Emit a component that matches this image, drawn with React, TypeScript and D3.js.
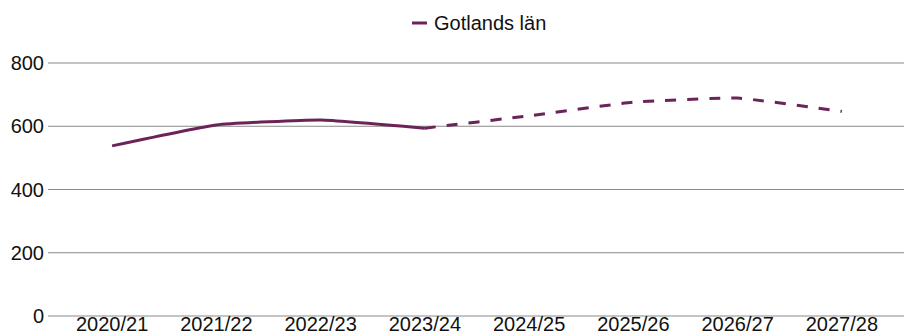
import * as React from "react"
import * as d3 from "d3"

const years = ["2020/21", "2021/22", "2022/23", "2023/24", "2024/25", "2025/26", "2026/27", "2027/28"]
const actual = [538, 604, 620, 594]
const forecast = [594, 633, 676, 689, 647]
const yTicks = [0, 200, 400, 600, 800]
const seriesName = "Gotlands län"

const App = () => {
    const [w, h] = [904, 336]
    const color = "#6b2358"
    const font = "'Liberation Sans', Arial, sans-serif"

    const x = d3.scaleBand().domain(years).range([60, 894])
    const y = d3.scaleLinear().domain([0, 800]).range([316, 63])
    const cx = (d: string) => (x(d) ?? 0) + x.bandwidth() / 2

    const line = d3
        .line<[string, number]>()
        .x(d => cx(d[0]))
        .y(d => y(d[1]))
        .curve(d3.curveCardinal.tension(0.6))

    const solidPts = actual.map((v, i) => [years[i], v] as [string, number])
    const dashPts = forecast.map((v, i) => [years[i + actual.length - 1], v] as [string, number])

    return (
        <svg width={w} height={h} style={{ position: "absolute", left: 0, top: 0 }} fontFamily={font}>
            <rect width={w} height={h} fill="white" />
            {yTicks.map(t => (
                <g key={t}>
                    <line x1={48} x2={w} y1={y(t)} y2={y(t)} stroke="#8a8a8a" strokeWidth={1} />
                    <text x={44} y={y(t)} dy="0.35em" fontSize={20} textAnchor="end" fill="#111">
                        {t}
                    </text>
                </g>
            ))}
            {years.map(d => (
                <text key={d} x={cx(d)} y={331} fontSize={20} textAnchor="middle" fill="#111">
                    {d}
                </text>
            ))}
            <path d={line(solidPts) ?? ""} fill="none" stroke={color} strokeWidth={3} />
            <path d={line(dashPts) ?? ""} fill="none" stroke={color} strokeWidth={3} strokeDasharray="11,11" />
            <g transform="translate(412,23)">
                <line x1={0} x2={15} y1={0} y2={0} stroke={color} strokeWidth={3} />
                <text x={22} y={0} dy="0.35em" fontSize={20} fill="#111">{seriesName}</text>
            </g>
        </svg>
    )
}

export default App
